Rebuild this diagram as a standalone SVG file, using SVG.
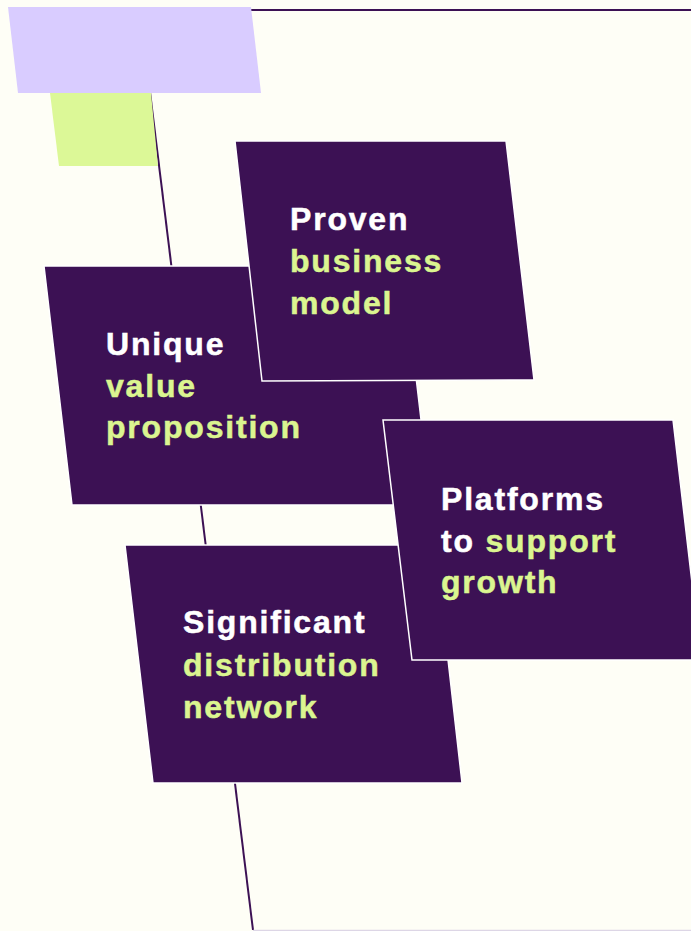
<svg xmlns="http://www.w3.org/2000/svg" width="691" height="931" viewBox="0 0 691 931">
  <style>
    .tile { fill: #3c1154; stroke: #ffffff; stroke-width: 1.5; stroke-linejoin: miter; }
    .label { font-family: "Liberation Sans", Arial, sans-serif; font-weight: bold; font-size: 32px; letter-spacing: 1.8px; stroke-width: 0.5px; }
    .w { fill: #ffffff; stroke: #ffffff; }
    .g { fill: #dbf590; stroke: #dbf590; }
    .rule { stroke: #3c1154; stroke-width: 2; fill: none; }
  </style>
  <rect width="691" height="931" fill="#fefef6"/>

  <!-- frame lines running behind the tiles -->
  <g id="connectors">
    <line class="rule" x1="251" y1="10" x2="691" y2="10"/>
    <line class="rule" x1="150" y1="92" x2="253" y2="930"/>
    <line x1="253" y1="930.5" x2="691" y2="930.5" stroke="#ddd6e6" stroke-width="1.5"/>
  </g>

  <!-- accent blocks -->
  <g id="accent-lavender">
    <polygon points="8,7 251,7 261,93 18,93" fill="#d9ccff"/>
  </g>
  <g id="accent-lime">
    <polygon points="50,93 151,93 158,166 59,166" fill="#dcf897"/>
  </g>

  <g id="unique-value">
    <polygon class="tile" points="44,266 403,266 431,505 72,505"/>
    <text class="label w" x="106" y="355">Unique</text>
    <text class="label g" x="106" y="397">value</text>
    <text class="label g" x="106" y="438">proposition</text>
  </g>

  <g id="proven-model">
    <polygon class="tile" points="235,141 506,141 534,380 262,381"/>
    <text class="label w" x="290" y="230">Proven</text>
    <text class="label g" x="290" y="272">business</text>
    <text class="label g" x="290" y="314">model</text>
  </g>

  <g id="significant-network">
    <polygon class="tile" points="125,545 435,545 462,783 153,783"/>
    <text class="label w" x="183" y="633">Significant</text>
    <text class="label g" x="183" y="676">distribution</text>
    <text class="label g" x="183" y="718">network</text>
  </g>

  <g id="platforms-growth">
    <polygon class="tile" points="383,420 673,420 701,660 412,660"/>
    <text class="label w" x="441" y="510">Platforms</text>
    <text class="label" x="441" y="552"><tspan class="w">to </tspan><tspan class="g">support</tspan></text>
    <text class="label g" x="441" y="593">growth</text>
  </g>
</svg>
